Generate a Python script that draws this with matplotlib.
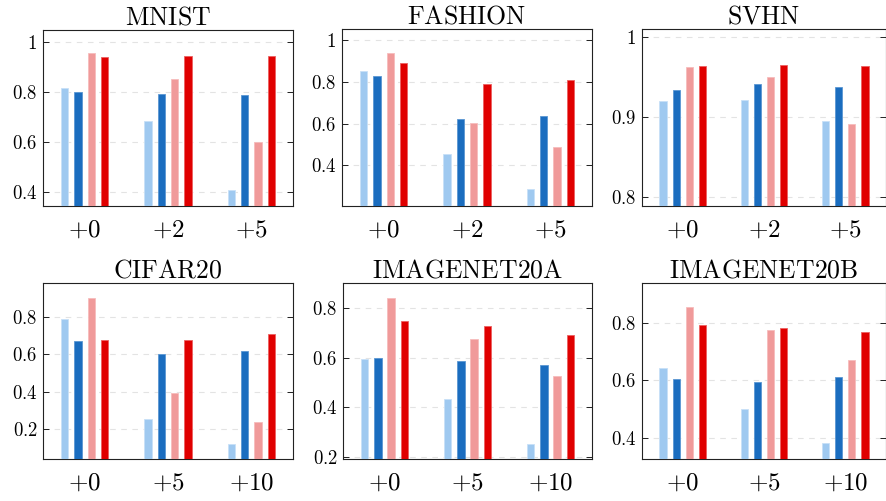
import numpy as np
import matplotlib
matplotlib.use('Agg')
import matplotlib.pyplot as plt

plt.rcParams['mathtext.fontset'] = 'cm'
plt.rcParams['font.family'] = 'serif'
plt.rcParams['font.serif'] = ['DejaVu Serif']

# data
titles = ['MNIST', 'FASHION', 'SVHN', 'CIFAR20', 'IMAGENET20A', 'IMAGENET20B']
groups_top = ['+0', '+2', '+5']
groups_bottom = ['+0', '+5', '+10']

mnist = [[0.816, 0.684, 0.410],
         [0.800, 0.795, 0.790],
         [0.958, 0.853, 0.600],
         [0.941, 0.945, 0.946]]
fashion = [[0.852, 0.454, 0.285],
           [0.826, 0.622, 0.636],
           [0.938, 0.601, 0.488],
           [0.891, 0.789, 0.809]]
svhn = [[0.920, 0.922, 0.895],
        [0.934, 0.942, 0.938],
        [0.963, 0.950, 0.892],
        [0.964, 0.965, 0.964]]
cifar20 = [[0.789, 0.252, 0.118],
           [0.669, 0.600, 0.618],
           [0.902, 0.393, 0.238],
           [0.677, 0.677, 0.711]]
imagenet20a = [[0.596, 0.432, 0.250],
               [0.600, 0.587, 0.569],
               [0.840, 0.677, 0.527],
               [0.749, 0.727, 0.693]]
imagenet20b = [[0.645, 0.499, 0.381],
               [0.605, 0.594, 0.613],
               [0.857, 0.777, 0.671],
               [0.795, 0.784, 0.771]]

datasets = [mnist, fashion, svhn, cifar20, imagenet20a, imagenet20b]
yticks = [[0.4, 0.6, 0.8, 1.0],
          [0.4, 0.6, 0.8, 1.0],
          [0.8, 0.9, 1.0],
          [0.2, 0.4, 0.6, 0.8],
          [0.2, 0.4, 0.6, 0.8],
          [0.4, 0.6, 0.8]]
ylims = [(0.345, 1.05), (0.205, 1.053), (0.789, 1.0104),
         (0.039, 0.982), (0.19, 0.902), (0.325, 0.941)]

colors = ['#9fc9f0', '#1b6dbf', '#f09a9a', '#e00000']
edges = ['#c8e0f7', '#5a97d3', '#f6bcbc', '#ec6060']
offsets = [-0.24, -0.08, 0.08, 0.24]
width = 0.09

W, H = 886, 501
fig = plt.figure(figsize=(W / 100, H / 100), dpi=100)

# axes boxes in pixels: left, right, top, bottom
boxes = [(43, 293, 30, 206), (342, 592, 29, 206), (642, 886, 29, 206),
         (43, 293, 283, 459), (343, 592, 283, 459), (642, 886, 283, 459)]


def fmt(v):
    s = ('%.1f' % v)
    if s.endswith('.0'):
        s = s[:-2]
    return '$' + s + '$'


for i, (l, r, t, b) in enumerate(boxes):
    ax = fig.add_axes([l / W, 1 - b / H, (r - l) / W, (b - t) / H])
    data = datasets[i]
    x = np.arange(3)
    for k in range(4):
        ax.bar(x + offsets[k], data[k], width, color=colors[k],
               edgecolor=edges[k], linewidth=0.6, zorder=3)
    ax.set_xlim(-0.5, 2.5)
    ax.set_ylim(*ylims[i])
    ax.set_yticks(yticks[i])
    ax.set_yticklabels([fmt(v) for v in yticks[i]])
    labels = groups_top if i < 3 else groups_bottom
    ax.set_xticks(x)
    ax.set_xticklabels(['$' + s + '$' for s in labels])
    ax.tick_params(axis='x', length=0, labelsize=18, pad=9)
    ax.tick_params(axis='y', direction='in', length=4, width=0.6,
                   labelsize=13.5, right=True, left=True, pad=4)
    ax.yaxis.grid(True, linestyle=(0, (5, 5)), color='#e3e3e3', linewidth=0.8, zorder=0)
    for sp in ax.spines.values():
        sp.set_linewidth(0.8)
        sp.set_color('#222222')
    ax.set_title(r'$\mathrm{' + titles[i] + '}$', fontsize=18.5, pad=4)

fig.savefig('out.png', dpi=100)
